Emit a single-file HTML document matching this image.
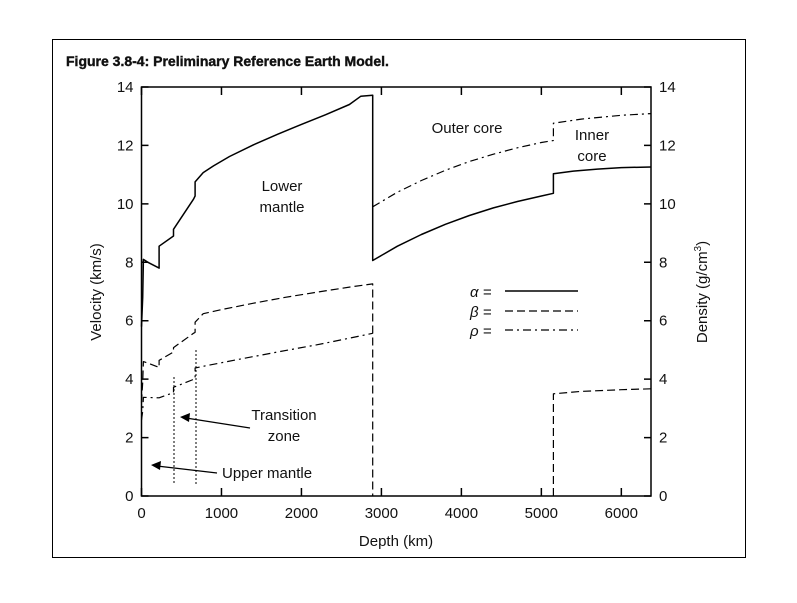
<!DOCTYPE html>
<html><head><meta charset="utf-8"><style>
html,body{margin:0;padding:0;background:#fff}
svg text{font-family:"Liberation Sans",sans-serif;fill:#111}
</style></head><body>
<svg width="797" height="598" viewBox="0 0 797 598" xmlns="http://www.w3.org/2000/svg" id="chart">
<rect x="52.5" y="39.5" width="693" height="518" fill="none" stroke="#000" stroke-width="1"/>
<text x="66" y="66" font-size="14" font-weight="bold" stroke="#111" stroke-width="0.4">Figure 3.8-4: Preliminary Reference Earth Model.</text>
<g id="axes"></g>
<g id="series"></g>
<g id="annot" font-size="15">
<text x="282" y="191" text-anchor="middle">Lower</text>
<text x="282" y="212" text-anchor="middle">mantle</text>
<text x="467" y="133" text-anchor="middle">Outer core</text>
<text x="592" y="140" text-anchor="middle">Inner</text>
<text x="592" y="161" text-anchor="middle">core</text>
<text x="284" y="420" text-anchor="middle">Transition</text>
<text x="284" y="441" text-anchor="middle">zone</text>
<text x="222" y="478">Upper mantle</text>
<line x1="174" y1="377" x2="174" y2="485" stroke="#000" stroke-dasharray="2,2"/>
<line x1="196" y1="350" x2="196" y2="485" stroke="#000" stroke-dasharray="2,2"/>
<line x1="250" y1="428" x2="186" y2="418" stroke="#000" stroke-width="1.3"/>
<polygon points="180,417 190,413 189,422" fill="#000"/>
<line x1="217" y1="473" x2="157" y2="466" stroke="#000" stroke-width="1.3"/>
<polygon points="151,465 161,461 160,470" fill="#000"/>
<text x="470" y="297" font-style="italic">α =</text>
<line x1="505" y1="291" x2="578" y2="291" stroke="#000" stroke-width="1.5"/>
<text x="470" y="317" font-style="italic">β =</text>
<line x1="505" y1="311" x2="578" y2="311" stroke="#000" stroke-width="1.2" stroke-dasharray="8,4"/>
<text x="470" y="336" font-style="italic">ρ =</text>
<line x1="505" y1="330" x2="578" y2="330" stroke="#000" stroke-width="1.2" stroke-dasharray="8,4,2,4"/>
</g>
</svg>
<script>
const xTicks=[0,1000,2000,3000,4000,5000,6000];
const yTicks=[0,2,4,6,8,10,12,14];
const alphaDepth=[0,15,24,80,220,220,400,400,650,670,670,771,900,1100,1400,1700,2000,2300,2600,2741,2891,2891,3200,3500,3800,4100,4400,4700,5000,5150,5150,5400,5700,6000,6371];
const alphaVal=[5.8,6.8,8.1,8.0,7.8,8.55,8.9,9.13,10.16,10.27,10.75,11.07,11.3,11.62,12.02,12.38,12.72,13.05,13.4,13.68,13.72,8.06,8.55,8.95,9.3,9.6,9.86,10.08,10.27,10.36,11.03,11.12,11.19,11.24,11.26];
const betaMantleDepth=[0,15,24,80,220,220,400,400,650,670,670,771,1000,1400,1800,2200,2600,2891,2891];
const betaMantleVal=[3.2,3.9,4.6,4.55,4.4,4.64,4.93,5.08,5.57,5.6,5.95,6.24,6.38,6.6,6.8,6.98,7.15,7.26,0];
const betaCoreDepth=[5150,5150,5500,6000,6371];
const betaCoreVal=[0,3.5,3.58,3.64,3.67];
const rhoDepth=[0,15,24,80,220,400,400,650,670,670,771,1200,1700,2200,2600,2891,2891,3200,3500,3800,4100,4400,4700,5000,5150,5150,5500,6000,6371];
const rhoVal=[2.6,2.9,3.38,3.37,3.36,3.54,3.72,3.99,4.0,4.38,4.44,4.67,4.93,5.18,5.4,5.57,9.9,10.4,10.8,11.15,11.45,11.7,11.92,12.1,12.17,12.76,12.9,13.03,13.09];
const X0=141.5,X1=651,Y0=496,Y1=87,XMAX=6371,YMAX=14;
const sx=d=>X0+(X1-X0)*d/XMAX;
const sy=v=>Y0-(Y0-Y1)*v/YMAX;
const NS="http://www.w3.org/2000/svg";
const axes=document.getElementById('axes'),ser=document.getElementById('series');
function mk(tag,attrs,parent){const e=document.createElementNS(NS,tag);for(const k in attrs)e.setAttribute(k,attrs[k]);parent.appendChild(e);return e;}
const frame=mk('rect',{x:X0,y:Y1,width:X1-X0,height:Y0-Y1,fill:'none',stroke:'#000','stroke-width':1.5},axes);


xTicks.forEach(t=>{
  const l=mk('path',{d:`M${sx(t)},${Y0}v-8M${sx(t)},${Y1}v8`,stroke:'#000','stroke-width':1.5},axes);
  
  
  const tx=mk('text',{x:sx(t),y:Y0+22,'text-anchor':'middle','font-size':15},axes);tx.textContent=t;
  
  
});
yTicks.forEach(t=>{
  const l=mk('path',{d:`M${X0},${sy(t)}h7M${X1},${sy(t)}h-7`,stroke:'#000','stroke-width':1.5},axes);
  
  
  const a=mk('text',{x:X0-8,y:sy(t)+5,'text-anchor':'end','font-size':15},axes);a.textContent=t;
  
  
  const b=mk('text',{x:X1+8,y:sy(t)+5,'text-anchor':'start','font-size':15},axes);b.textContent=t;
  
  
});
const xl=mk('text',{x:396,y:546,'text-anchor':'middle','font-size':15},axes);xl.textContent='Depth (km)';


const yl=mk('text',{x:0,y:0,'text-anchor':'middle','font-size':15,transform:'translate(101,292) rotate(-90)'},axes);yl.textContent='Velocity (km/s)';


const yr=mk('text',{x:0,y:0,'text-anchor':'middle','font-size':15,transform:'translate(707,292) rotate(-90)'},axes);
yr.innerHTML='Density (g/cm<tspan dy="-6" font-size="10">3</tspan><tspan dy="6">)</tspan>';


function line(ds,vs,dash,name,w){
  const d=ds.map((x,i)=>(i?'L':'M')+sx(x).toFixed(1)+','+sy(vs[i]).toFixed(1)).join('');
  const p=mk('path',{d:d,fill:'none',stroke:'#000','stroke-width':w,'stroke-linejoin':'round'},ser);
  if(dash)p.setAttribute('stroke-dasharray',dash);
  
  
}
line(alphaDepth,alphaVal,null,'series-alpha',1.5);
line(betaMantleDepth,betaMantleVal,'8,4','series-beta-mantle',1.2);
line(betaCoreDepth,betaCoreVal,'8,4','series-beta-inner-core',1.2);
line(rhoDepth.slice(0,16),rhoVal.slice(0,16),'8,4,2,4','series-rho-mantle',1.2);
line(rhoDepth.slice(16),rhoVal.slice(16),'8,4,2,4','series-rho-core',1.2);
</script>
</body></html>
